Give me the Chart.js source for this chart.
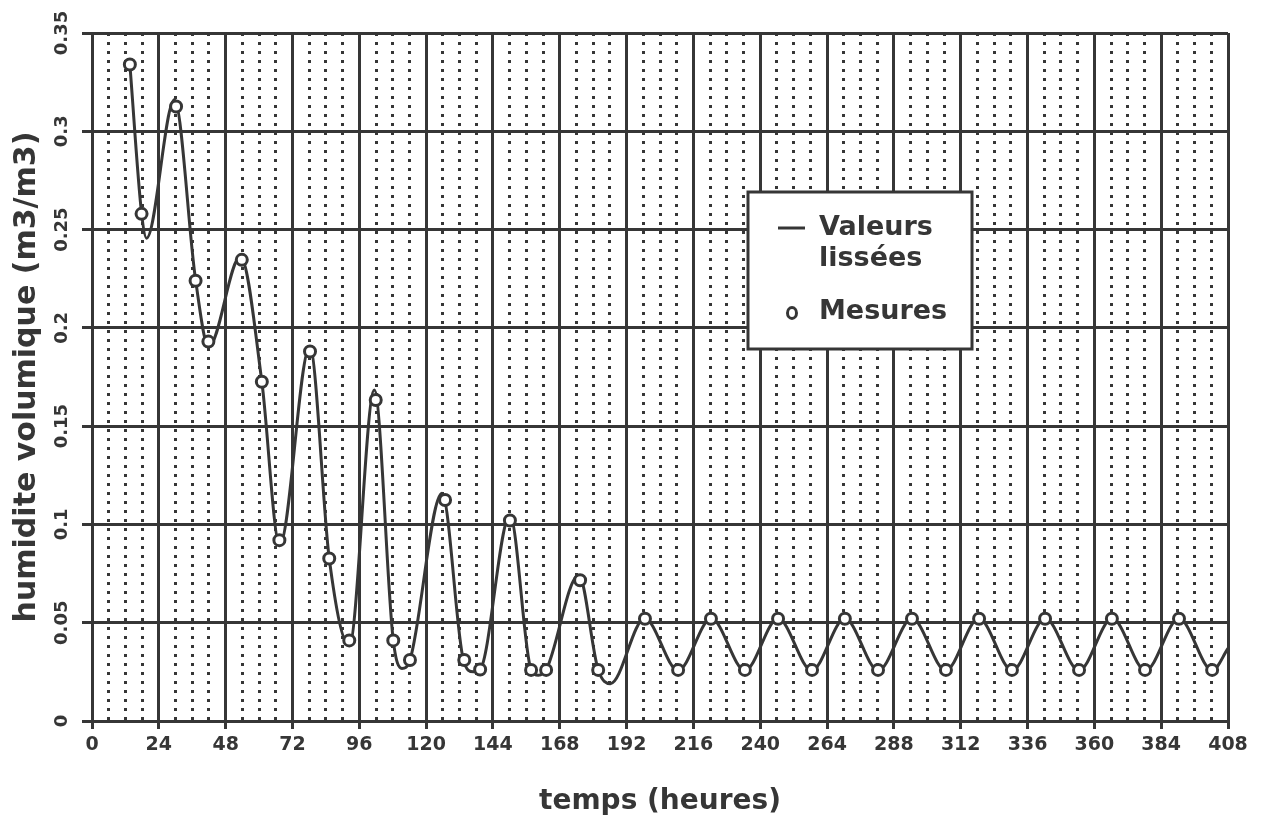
<!DOCTYPE html>
<html>
<head>
<meta charset="utf-8">
<script src="https://cdn.jsdelivr.net/npm/chart.js@4.4.1/dist/chart.umd.min.js"></script>
<style>
  html, body { margin: 0; padding: 0; background: #fff; }
  #wrap { width: 1261px; height: 822px; }
</style>
</head>
<body>
<div id="wrap"><canvas id="humidite" width="1261" height="822"></canvas></div>
<script>
// smoothed curve (incl. its turning points)
const smoothT = [13.6, 17.8, 19.6, 29.6, 37.2, 41.9, 53.3, 61.0, 67.4, 78.2,
                 85.2, 92.4, 101.4, 108.2, 111.3, 114.2, 125.7, 133.4, 137.0, 139.4,
                 150.1, 157.7, 160.3, 163.1, 174.8, 181.8, 186.2,
                 198.5, 210.5, 222.4, 234.5, 246.4, 258.5, 270.4, 282.4, 294.5,
                 306.6, 318.5, 330.5, 342.4, 354.5, 366.4, 378.4, 390.4, 402.4, 408];
const smoothY = [0.334, 0.2584, 0.2456, 0.316, 0.2244, 0.1904, 0.2363, 0.1726, 0.0895, 0.1904,
                 0.0827, 0.0385, 0.1684, 0.041, 0.0267, 0.031, 0.1158, 0.031, 0.025, 0.0262,
                 0.1047, 0.026, 0.0233, 0.026, 0.0742, 0.026, 0.019,
                 0.0521, 0.0258, 0.0521, 0.0258, 0.0521, 0.0258, 0.0521, 0.0258, 0.0521,
                 0.0258, 0.0521, 0.0258, 0.0521, 0.0258, 0.0521, 0.0258, 0.0521, 0.0258, 0.0369];

// measurements
const mesT = [13.6, 17.8, 30.2, 37.2, 41.8, 53.8, 61.0, 67.3, 78.3, 85.2,
              92.4, 101.9, 108.2, 114.2, 126.8, 133.7, 139.4, 150.1, 157.7, 163.1,
              175.3, 181.8, 198.6, 210.5, 222.3, 234.5, 246.4, 258.6, 270.4, 282.3,
              294.5, 306.7, 318.6, 330.4, 342.3, 354.5, 366.3, 378.2, 390.4, 402.3];
const mesY = [0.334, 0.258, 0.3126, 0.224, 0.193, 0.2346, 0.1726, 0.092, 0.188, 0.0827,
              0.041, 0.1633, 0.041, 0.031, 0.1124, 0.031, 0.0262, 0.102, 0.026, 0.026,
              0.0716, 0.026, 0.052, 0.026, 0.052, 0.026, 0.052, 0.026, 0.052, 0.026,
              0.052, 0.026, 0.052, 0.026, 0.052, 0.026, 0.052, 0.026, 0.052, 0.026];

const xTickLabels = ['0','24','48','72','96','120','144','168','192','216','240',
                     '264','288','312','336','360','384','408'];
const yTickLabels = ['0','0.05','0.1','0.15','0.2','0.25','0.3','0.35'];

const ink = '#363636';

function toPoints(xs, ys){
  var pts = [];
  for(let i=0; i<xs.length; i++){
    pts.push({x: xs[i], y: ys[i]});
  }
  return pts;
}

//legend drawn as a framed box inside the plot
const legendBox = {
  id: 'legendBox',
  afterDatasetsDraw(chart){
    const ctx = chart.ctx;
    const ds = chart.data.datasets;
    ctx.save();
    ctx.fillStyle = '#fff';
    ctx.strokeStyle = ink;
    ctx.lineWidth = 3;
    ctx.fillRect(748, 192, 224, 157);
    ctx.strokeRect(748, 192, 224, 157);

    ctx.fillStyle = ink;
    ctx.font = 'bold 27px "DejaVu Sans"';
    ctx.textBaseline = 'middle';
    ctx.textAlign = 'left';
    var lines = ds[0].label.split('\n');
    ctx.fillText(lines[0], 819, 228);
    ctx.fillText(lines[1], 819, 259);
    ctx.fillText(ds[1].label, 819, 312);

    //line sample
    ctx.beginPath();
    ctx.moveTo(778, 228);
    ctx.lineTo(805, 228);
    ctx.lineWidth = 3;
    ctx.stroke();

    //marker sample
    ctx.beginPath();
    ctx.ellipse(792, 313, 4.5, 5.5, 0, 0, Math.PI*2);
    ctx.fillStyle = '#fff';
    ctx.fill();
    ctx.lineWidth = 3;
    ctx.stroke();
    ctx.restore();
  }
};

const ctx = document.getElementById('humidite');
const chart = new Chart(ctx, {
  type: 'line',
  data: {
    datasets: [{
      label: 'Valeurs\nlissées',
      data: toPoints(smoothT, smoothY),
      borderColor: ink,
      borderWidth: 3,
      pointRadius: 0,
      cubicInterpolationMode: 'monotone',
      fill: false,
      order: 2
    },{
      label: 'Mesures',
      data: toPoints(mesT, mesY),
      showLine: false,
      pointStyle: 'circle',
      pointRadius: 5.5,
      pointBorderWidth: 3,
      pointBorderColor: ink,
      pointBackgroundColor: '#fff',
      order: 1
    }]
  },
  options: {
    responsive: false,
    animation: false,
    events: [],
    layout: { padding: { top: 33, right: 33, left: 0, bottom: 0 } },
    plugins: {
      legend: { display: false },
      tooltip: { enabled: false }
    },
    scales: {
      x: {
        type: 'linear',
        min: 0,
        max: 408,
        afterFit: function(scale){ scale.height = 101; },
        ticks: {
          stepSize: 6,
          autoSkip: false,
          maxRotation: 0,
          padding: 5,
          color: ink,
          font: { family: '"DejaVu Sans"', weight: 'bold', size: 19 },
          callback: function(value){
            return value % 24 === 0 ? xTickLabels[value / 24] : '';
          }
        },
        grid: {
          color: ink,
          lineWidth: 3,
          tickLength: 8,
          tickWidth: 3,
          tickColor: function(c){
            return (c.tick && c.tick.value % 24 === 0) ? ink : 'rgba(0,0,0,0)';
          }
        },
        border: {
          color: ink,
          width: 3,
          dash: function(c){
            return (c.tick && c.tick.value % 24 !== 0) ? [3, 6] : [];
          }
        },
        title: {
          display: true,
          text: 'temps (heures)',
          color: ink,
          font: { family: '"DejaVu Sans"', weight: 'bold', size: 28 },
          padding: { top: 0, bottom: 3 }
        }
      },
      y: {
        min: 0,
        max: 0.35,
        afterFit: function(scale){ scale.width = 92; },
        ticks: {
          stepSize: 0.05,
          minRotation: 90,
          maxRotation: 90,
          crossAlign: 'center',
          padding: -3,
          color: ink,
          font: { family: '"DejaVu Sans"', weight: 'bold', size: 18 },
          callback: function(value, index){ return yTickLabels[index]; }
        },
        grid: {
          color: ink,
          lineWidth: 3,
          tickLength: 10,
          tickWidth: 3
        },
        border: { color: ink, width: 3 },
        title: {
          display: true,
          text: 'humidite volumique (m3/m3)',
          color: ink,
          font: { family: '"DejaVu Sans"', weight: 'bold', size: 30 },
          padding: { top: 9, bottom: 0 }
        }
      }
    }
  },
  plugins: [legendBox]
});
</script>
</body>
</html>
